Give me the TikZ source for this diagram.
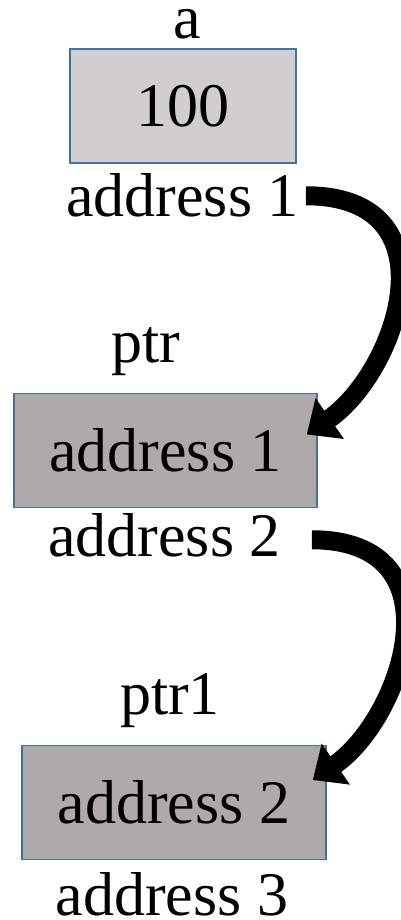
\documentclass[tikz,border=0pt]{standalone}
\usepackage{fontspec}
\setmainfont{Liberation Serif}
\usetikzlibrary{arrows.meta}
\definecolor{cellline}{HTML}{41719C}
\definecolor{cellfillA}{HTML}{D0CECE}
\definecolor{cellfillB}{HTML}{AEAAAA}

\begin{document}
\begin{tikzpicture}[x=1pt, y=1pt,
    varname/.style={font=\fontsize{62}{70}\selectfont, inner sep=0pt, anchor=base},
    cell/.style={draw=cellline, line width=1.5pt, font=\fontsize{62}{70}\selectfont,
      minimum height=114pt, inner sep=0pt},
    ptrarrow/.style={line width=19pt, -{Triangle[length=28pt, width=48pt]}}]
  \useasboundingbox (0,0) rectangle (401,920);

  \node [varname] (nameA) at (187,881) {a};
  \node [cell, fill=cellfillA, minimum width=226pt] (cellA) at (183,814) {100};
  \node [varname] (addrA) at (182.5,703) {address 1};

  \node [varname] (namePtr) at (146,557) {ptr};
  \node [cell, fill=cellfillB, minimum width=303pt] (cellPtr) at (165.5,469.5) {address 1};
  \node [varname] (addrPtr) at (164.5,363) {address 2};

  \node [varname] (namePtrA) at (170,205) {ptr1};
  \node [cell, fill=cellfillB, minimum width=304pt] (cellPtrA) at (174,117.5) {address 2};
  \node [varname] (addrPtrA) at (172,5) {address 3};

  \coordinate (tipA) at ([xshift=-11pt, yshift=16pt]cellPtr.east);
  \coordinate (tipB) at ([xshift=-14pt, yshift=22.5pt]cellPtrA.east);

  \draw [ptrarrow] ([xshift=7pt]addrA.east)
    .. controls +(150,0) and +(92,64) .. (tipA);
  \draw [ptrarrow] ([xshift=31pt, yshift=-4pt]addrPtr.east)
    .. controls +(150,0) and +(90,62) .. (tipB);
\end{tikzpicture}
\end{document}
